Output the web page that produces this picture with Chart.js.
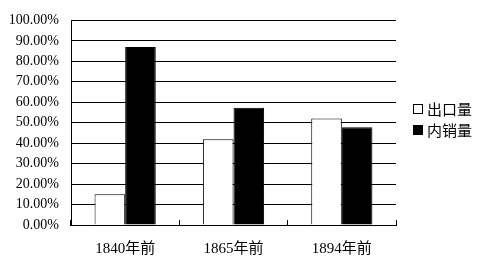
<!DOCTYPE html>
<html>
<head>
<meta charset="utf-8">
<script src="https://cdn.jsdelivr.net/npm/chart.js@4"></script>
<style>
  html, body { margin: 0; padding: 0; background: #fff; }
  #wrap { width: 477px; height: 261px; position: relative; }
</style>
</head>
<body>
<div id="wrap"><canvas id="c" width="477" height="261"></canvas></div>
<script>
const categories = ['1840年前', '1865年前', '1894年前'];
const exportShare = [15.0, 41.9, 52.0];
const domesticShare = [87.0, 57.3, 47.8];
const seriesNames = ['出口量', '内销量'];

const serif = '"Liberation Serif", "Times New Roman", "Noto Sans CJK SC"';

// small legend drawn at the right, beside the plot
const sideLegend = {
  id: 'sideLegend',
  afterDraw(chart) {
    const ctx = chart.ctx;
    ctx.save();
    ctx.font = '15px "Noto Sans CJK SC", sans-serif';
    ctx.textBaseline = 'middle';
    chart.data.datasets.forEach((ds, i) => {
      const y = 109 + i * 21;
      ctx.fillStyle = ds.backgroundColor;
      ctx.fillRect(413.5, y - 4.5, 9, 9);
      ctx.strokeStyle = '#000';
      ctx.lineWidth = 1;
      ctx.strokeRect(413.5, y - 4.5, 9, 9);
      ctx.fillStyle = '#000';
      ctx.fillText(ds.label, 427, y);
    });
    ctx.restore();
  }
};

new Chart(document.getElementById('c'), {
  type: 'bar',
  data: {
    labels: categories,
    datasets: [
      {
        label: seriesNames[0],
        data: exportShare,
        backgroundColor: '#ffffff',
        borderColor: '#000000',
        borderWidth: 1,
      },
      {
        label: seriesNames[1],
        data: domesticShare,
        backgroundColor: '#000000',
        borderColor: '#000000',
        borderWidth: 1,
      },
    ],
  },
  options: {
    responsive: false,
    animation: false,
    layout: { padding: { top: 10, right: 81, left: 0, bottom: 0 } },
    datasets: { bar: { categoryPercentage: 0.565, barPercentage: 1 } },
    plugins: {
      legend: { display: false },
      tooltip: { enabled: false },
    },
    scales: {
      x: {
        afterFit(scale) { scale.height = 36; },
        grid: { drawOnChartArea: false, tickLength: -5, color: '#000' },
        border: { color: '#000', width: 1 },
        ticks: { color: '#000', font: { family: serif, size: 15 }, padding: 20 },
      },
      y: {
        min: 0,
        max: 100,
        afterFit(scale) { scale.width = 71; },
        grid: { color: '#000', drawTicks: false },
        border: { color: '#000', width: 1 },
        ticks: {
          stepSize: 10,
          color: '#000',
          font: { family: serif, size: 14 },
          padding: 12,
          callback: v => v.toFixed(2) + '%',
        },
      },
    },
  },
  plugins: [sideLegend],
});
</script>
</body>
</html>
